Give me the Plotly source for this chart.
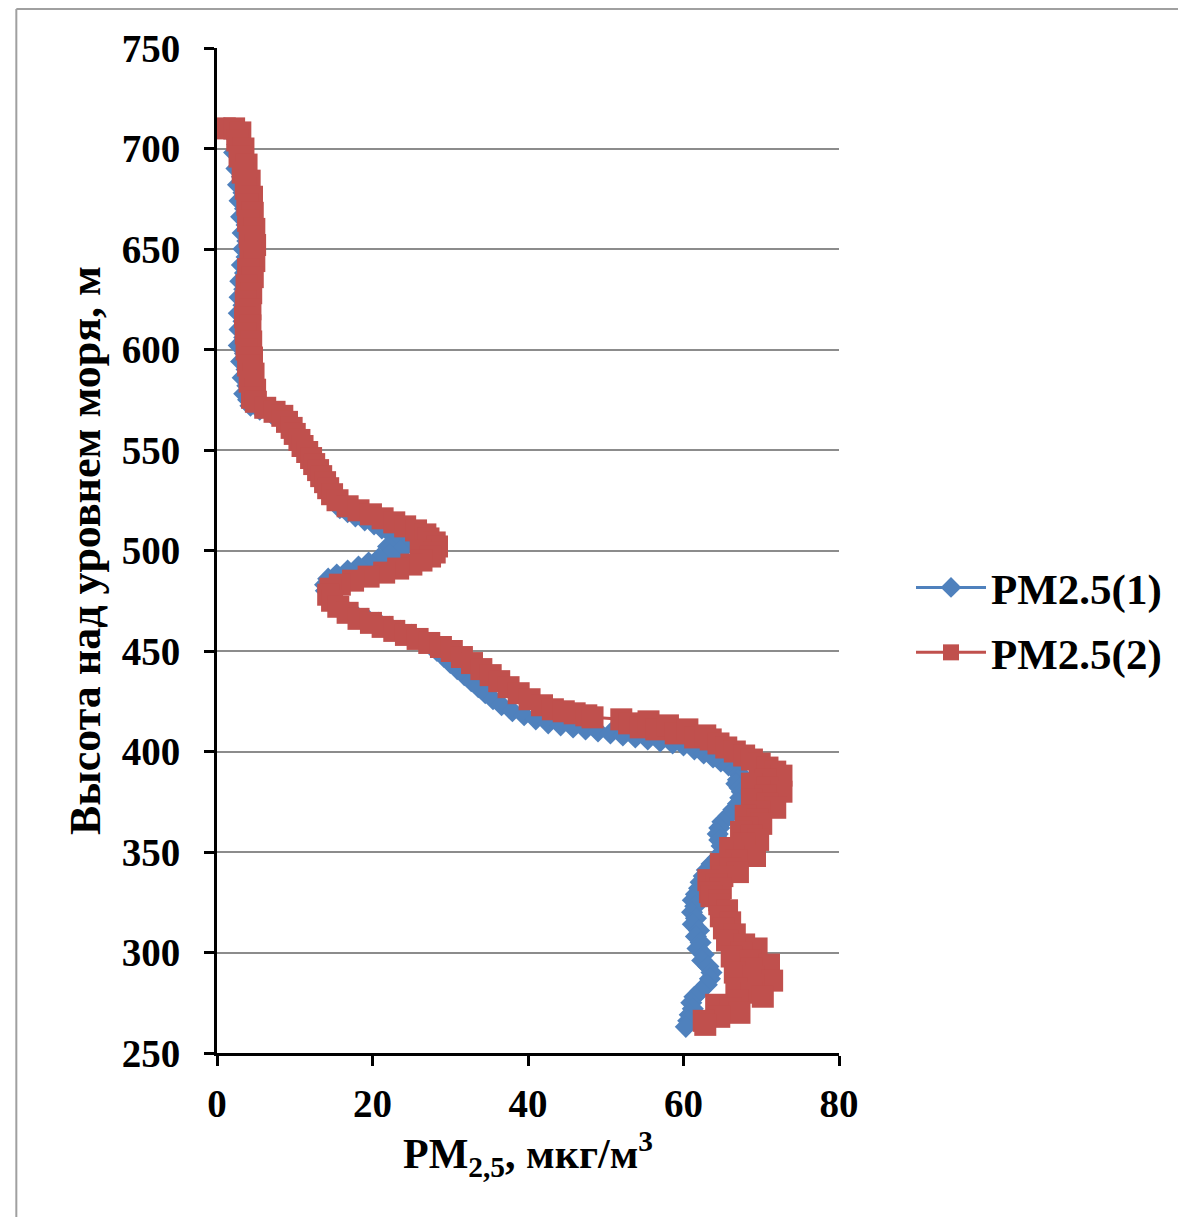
import plotly.graph_objects as go

# PM2.5(1) series: altitude (m) and concentration (µg/m3)
alt_1 = [710, 709, 706, 702, 698, 694, 690, 686, 682, 678, 674, 670, 666, 662, 658, 654, 650, 646, 642, 638,
         634, 630, 626, 622, 618, 614, 610, 606, 602, 598, 594, 590, 586, 582, 578, 575, 572, 570, 568, 566,
         563, 560, 557, 554, 551, 548, 545, 542, 539, 536, 533, 530, 527, 524, 521, 519, 517, 515, 513, 511,
         509, 507, 505, 503, 502, 500, 498, 496, 494, 492, 490, 488, 486, 483, 480, 477, 474, 471, 468, 466, 464,
         462, 460, 458, 456, 453, 450, 447, 444, 441, 438, 435, 432, 429, 426, 423, 420, 418, 416, 414, 413,
         412, 411, 410, 409, 408, 407, 406, 405, 404, 403, 401, 399, 397, 395, 393, 391, 389, 386, 384, 382,
         380, 377, 374, 371, 368, 365, 362, 359, 356, 353, 350, 347, 344, 341, 338, 335, 332, 329, 326, 323,
         320, 317, 314, 311, 308, 305, 302, 299, 296, 293, 290, 287, 284, 281, 278, 275, 272, 269, 266, 263]
pm_1 = [1.0, 2.0, 2.2, 2.6, 2.2, 3.0, 2.5, 3.2, 2.7, 3.4, 2.9, 3.6, 3.1, 3.8, 3.3, 3.9, 3.4, 3.8, 3.2, 3.6,
        3.0, 3.5, 2.9, 3.4, 2.8, 3.4, 2.9, 3.5, 2.8, 3.6, 3.1, 3.8, 3.3, 3.9, 3.5, 4.0, 4.3, 5.5, 7.0, 8.2,
        8.8, 9.4, 9.8, 10.4, 10.8, 11.4, 11.9, 12.3, 12.8, 13.2, 13.7, 14.1, 14.6, 15.3, 15.8, 16.8, 17.8, 19.0, 20.2, 21.2,
        22.2, 22.8, 23.8, 24.5, 22.0, 23.5, 22.2, 20.8, 19.5, 18.2, 16.8, 15.4, 14.3, 13.9, 14.0, 14.6, 15.4, 16.5, 17.8, 19.3, 20.8,
        22.2, 23.6, 25.0, 26.2, 27.4, 28.3, 29.2, 30.0, 30.9, 31.8, 32.7, 33.6, 34.5, 35.5, 36.6, 38.0, 39.5, 41.0, 42.6, 44.2,
        45.8, 47.4, 49.0, 50.6, 52.2, 53.8, 55.4, 57.0, 58.6, 60.0, 61.4, 62.6, 63.8, 64.8, 65.8, 66.6, 67.2, 67.0, 66.8, 67.2,
        67.5, 67.3, 67.0, 66.4, 65.8, 65.0, 64.6, 64.4, 64.6, 64.9, 65.0, 64.4, 63.6, 63.0, 62.6, 62.2, 62.0, 61.6, 61.2, 61.5,
        61.1, 61.6, 61.2, 62.0, 61.6, 62.2, 61.8, 62.6, 62.4, 63.2, 63.6, 63.4, 63.0, 62.2, 61.4, 61.0, 61.2, 60.8, 60.6, 60.3]

# PM2.5(2) series
alt_2 = [710, 710, 708, 704, 700, 696, 692, 688, 684, 680, 676, 672, 668, 664, 660, 656, 652, 648, 644, 640,
         636, 632, 628, 624, 620, 616, 612, 608, 604, 600, 596, 592, 588, 584, 580, 576, 574, 571, 569, 567,
         564, 561, 558, 555, 552, 549, 546, 543, 540, 537, 534, 531, 528, 525, 522, 520, 518, 516, 514, 512,
         510, 508, 506, 504, 502, 500, 499, 497, 495, 493, 491, 489, 487, 485, 483, 481, 478, 475, 472, 469, 466, 464,
         462, 460, 458, 456, 454, 452, 450, 447, 444, 441, 438, 435, 432, 429, 426, 423, 421, 420, 419, 418,
         417, 416, 414, 412, 415, 411, 413, 409, 411, 407, 408, 406, 404, 402, 400, 398, 396, 394, 392, 390,
         388, 386, 384, 382, 380, 378, 376, 374, 372, 370, 368, 366, 364, 362, 360, 358, 356, 354, 352, 350,
         348, 346, 344, 342, 340, 338, 336, 334, 332, 330, 328, 326, 324, 321, 318, 315, 312, 309, 306, 304,
         302, 300, 298, 296, 294, 292, 290, 288, 286, 284, 282, 280, 278, 276, 274, 272, 270, 268, 266, 264]
pm_2 = [1.0, 2.2, 3.0, 2.6, 3.4, 2.9, 3.8, 3.3, 4.2, 3.7, 4.5, 3.9, 4.6, 4.0, 4.8, 4.2, 4.9, 4.3, 4.8, 4.0,
        4.6, 3.8, 4.4, 3.7, 4.3, 3.6, 4.3, 3.7, 4.4, 3.8, 4.5, 4.0, 4.7, 4.2, 4.9, 4.5, 5.0, 6.2, 7.4, 8.4,
        9.0, 9.6, 10.0, 10.6, 11.0, 11.6, 12.1, 12.5, 13.0, 13.4, 13.9, 14.3, 14.8, 15.5, 16.8, 18.2, 19.8, 21.3, 22.8, 24.2,
        25.6, 26.8, 27.2, 28.0, 28.3, 26.2, 28.0, 27.4, 26.3, 25.0, 23.3, 21.5, 19.5, 17.5, 15.8, 14.6, 14.3, 14.8, 15.6, 16.8, 18.2, 19.8,
        21.3, 22.8, 24.3, 25.8, 27.3, 28.8, 30.2, 31.5, 32.8, 34.0, 35.2, 36.3, 37.5, 38.8, 40.2, 41.8, 43.2, 44.6, 46.0, 47.5,
        48.3, 52.0, 53.0, 54.5, 55.5, 56.5, 58.0, 59.0, 60.5, 61.5, 62.8, 63.5, 64.5, 65.5, 66.6, 67.8, 68.8, 69.8, 70.8, 71.8,
        72.6, 70.6, 68.8, 70.8, 72.6, 70.6, 68.8, 70.8, 71.8, 69.8, 68.0, 69.5, 70.0, 68.2, 67.4, 68.8, 69.6, 67.8, 66.0, 67.8,
        69.2, 66.8, 64.8, 66.0, 67.0, 65.0, 63.2, 64.2, 64.8, 63.4, 63.6, 64.6, 64.6, 65.6, 64.8, 66.0, 65.2, 66.6, 65.6, 67.8,
        69.4, 67.4, 66.2, 68.6, 71.0, 68.8, 66.6, 69.0, 71.4, 69.0, 66.8, 68.8, 70.2, 67.0, 64.2, 66.0, 67.2, 64.6, 62.6, 62.8]

x_ticks = [0, 20, 40, 60, 80]
y_ticks = [250, 300, 350, 400, 450, 500, 550, 600, 650, 700, 750]

FONT = "Liberation Serif"
BLUE = "#4F81BD"
RED = "#C0504D"

fig = go.Figure()
fig.add_trace(go.Scatter(
    x=pm_1, y=alt_1, mode="lines+markers", name="PM2.5(1)",
    line=dict(color=BLUE, width=3),
    marker=dict(symbol="diamond", size=17, color=BLUE),
    legendgroup="g1",
))
fig.add_trace(go.Scatter(
    x=pm_2, y=alt_2, mode="lines+markers", name="PM2.5(2)",
    line=dict(color=RED, width=3),
    marker=dict(symbol="square", size=22, color=RED),
    legendgroup="g2",
))

W, H = 1170, 1209
L, T = 209, 40
pw, ph = 623, 1005
R, B = W - L - pw, H - T - ph

fig.update_layout(
    width=W, height=H,
    margin=dict(l=L, r=R, t=T, b=B),
    paper_bgcolor="white", plot_bgcolor="white",
    font=dict(family=FONT, size=38, color="black", weight="bold"),
    showlegend=True,
    legend=dict(
        x=(903 - L) / pw, y=(T + ph - 612) / ph, xanchor="left", yanchor="middle",
        font=dict(family=FONT, size=43, color="black", weight="bold"),
        tracegroupgap=6, itemwidth=70, bgcolor="rgba(0,0,0,0)",
    ),
    xaxis=dict(
        range=[0, 80], tickvals=x_ticks, ticktext=[str(v) for v in x_ticks],
        showgrid=False, zeroline=False,
        showline=True, linecolor="black", linewidth=3,
        ticks="outside", ticklen=10, tickwidth=3, tickcolor="black",
        ticklabelstandoff=4,
        tickfont=dict(family=FONT, size=39, color="black", weight="bold"),
        title=dict(text="PM<sub>2,5</sub>, мкг/м<sup>3</sup>",
                   font=dict(family=FONT, size=42, color="black", weight="bold"),
                   standoff=8),
    ),
    yaxis=dict(
        range=[250, 750], tickvals=y_ticks, ticktext=[str(v) for v in y_ticks],
        showgrid=True, gridcolor="#8C8C8C", gridwidth=2, zeroline=False,
        showline=True, linecolor="black", linewidth=3,
        ticks="outside", ticklen=10, tickwidth=3, tickcolor="black",
        ticklabelstandoff=16,
        tickfont=dict(family=FONT, size=39, color="black", weight="bold"),
        title=dict(text="Высота над уровнем моря, м",
                   font=dict(family=FONT, size=44, color="black", weight="bold"),
                   standoff=8),
    ),
    shapes=[
        dict(type="line", xref="paper", yref="paper",
             x0=(8 - L) / pw, x1=(W - L) / pw + 0.02, y0=(T + ph - 1) / ph, y1=(T + ph - 1) / ph,
             line=dict(color="#A0A0A0", width=2)),
        dict(type="line", xref="paper", yref="paper",
             x0=(8 - L) / pw, x1=(8 - L) / pw, y0=(T + ph - 1) / ph, y1=-(B + 5) / ph,
             line=dict(color="#A0A0A0", width=2)),
    ],
)

fig.write_html("out.html")
